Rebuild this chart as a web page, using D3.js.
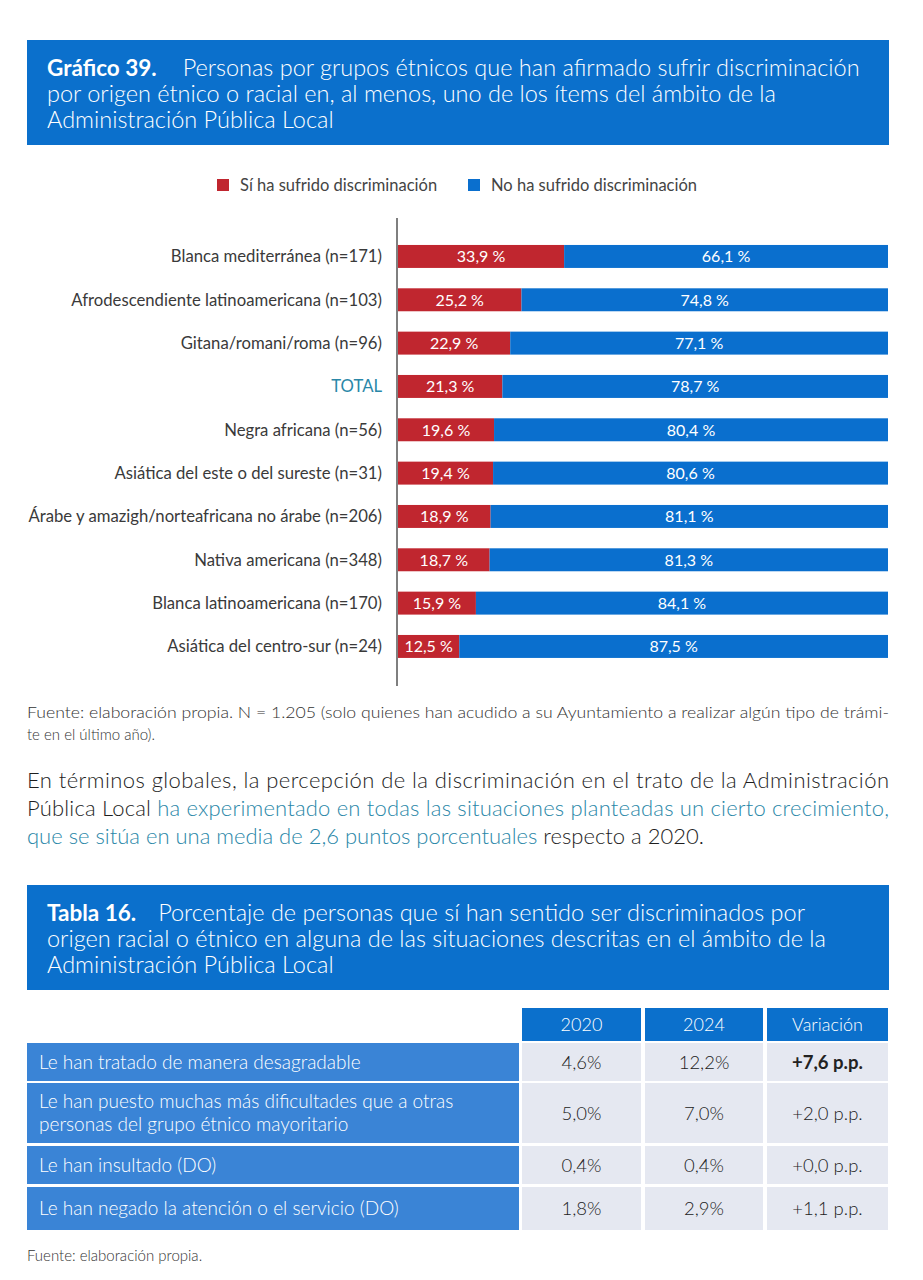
<!DOCTYPE html>
<html lang="es">
<head>
<meta charset="UTF-8">
<title>Gráfico 39</title>
<script src="https://cdnjs.cloudflare.com/ajax/libs/d3/7.8.5/d3.min.js"></script>
<style>
  body { margin: 0; background: #fff; }
  svg text { font-family: Lato, "Open Sans", sans-serif; }
</style>
</head>
<body>
<script>
// data
var categories = [
    "Blanca mediterránea (n=171)",
    "Afrodescendiente latinoamericana (n=103)",
    "Gitana/romani/roma (n=96)",
    "TOTAL",
    "Negra africana (n=56)",
    "Asiática del este o del sureste (n=31)",
    "Árabe y amazigh/norteafricana no árabe (n=206)",
    "Nativa americana (n=348)",
    "Blanca latinoamericana (n=170)",
    "Asiática del centro-sur (n=24)"
];
var siValues = [33.9, 25.2, 22.9, 21.3, 19.6, 19.4, 18.9, 18.7, 15.9, 12.5];
var noValues = [66.1, 74.8, 77.1, 78.7, 80.4, 80.6, 81.1, 81.3, 84.1, 87.5];
var legendLabels = ["Sí ha sufrido discriminación", "No ha sufrido discriminación"];

var tableHeaders = ["2020", "2024", "Variación"];
var tableItems = [
    ["Le han tratado de manera desagradable"],
    ["Le han puesto muchas más dificultades que a otras", "personas del grupo étnico mayoritario"],
    ["Le han insultado (DO)"],
    ["Le han negado la atención o el servicio (DO)"]
];
var values2020 = ["4,6%", "5,0%", "0,4%", "1,8%"];
var values2024 = ["12,2%", "7,0%", "0,4%", "2,9%"];
var variation = ["+7,6 p.p.", "+2,0 p.p.", "+0,0 p.p.", "+1,1 p.p."];

var width = 923,
    height = 1280;

var RED = "#c0262f",
    BLUE = "#0a6fce",
    HEAD = "#0b70cc",
    CELL = "#3a84d6",
    GREY = "#e5e8f1",
    TEAL = "#2a87a8",
    INK = "#333";

var svg = d3.select("body").append("svg")
    .attr("width", width)
    .attr("height", height);

// title boxes
function titleBox(y, boldText, lines, gap) {
    svg.append("rect")
        .attr("x", 27).attr("y", y)
        .attr("width", 862).attr("height", 105)
        .attr("fill", HEAD);
    var t = svg.append("text")
        .attr("fill", "#fff")
        .style("font-size", "23.5px")
        .style("font-weight", 300);
    lines.forEach(function (l, i) {
        var ts = t.append("tspan").attr("x", 47).attr("y", y + 36 + i * 26);
        if (i == 0) {
            ts.append("tspan").style("font-weight", "bold").style("font-size", "22.5px").text(boldText);
            ts.append("tspan").attr("dx", gap).text(l);
        } else {
            ts.text(l);
        }
    });
}

titleBox(40, "Gráfico 39.", [
    "Personas por grupos étnicos que han afirmado sufrir discriminación",
    "por origen étnico o racial en, al menos, uno de los ítems del ámbito de la",
    "Administración Pública Local"
], 26);

// legend
var legend = svg.append("g");
var legX = [217, 468];
legendLabels.forEach(function (l, i) {
    legend.append("rect")
        .attr("x", legX[i]).attr("y", 179)
        .attr("width", 12).attr("height", 12)
        .attr("fill", i == 0 ? RED : BLUE);
    legend.append("text")
        .attr("x", legX[i] + 23).attr("y", 191)
        .attr("fill", "#444")
        .style("font-size", "16.5px")
        .text(l);
});

// bars
var x = d3.scaleLinear().domain([0, 100]).range([398, 888]);
var y = d3.scaleBand()
    .domain(categories)
    .range([223.3, 679.6])
    .paddingInner(0.47)
    .paddingOuter(0.5);

var rows = categories.map(function (c, i) {
    return { cat: c, si: siValues[i], no: noValues[i] };
});
var stack = d3.stack().keys(["si", "no"]);
var series = stack(rows);

var fmt = function (v) { return d3.format(".1f")(v).replace(".", ",") + " %"; };

var layer = svg.selectAll(".layer")
    .data(series)
    .enter().append("g")
    .attr("class", "layer")
    .attr("fill", function (d) { return d.key == "si" ? RED : BLUE; });

layer.selectAll("rect")
    .data(function (d) { return d; })
    .enter().append("rect")
    .attr("x", function (d) { return x(d[0]); })
    .attr("y", function (d) { return y(d.data.cat); })
    .attr("width", function (d) { return x(d[1]) - x(d[0]); })
    .attr("height", y.bandwidth());

layer.selectAll("text")
    .data(function (d) { return d; })
    .enter().append("text")
    .attr("x", function (d) { return (x(d[0]) + x(d[1])) / 2; })
    .attr("y", function (d) { return y(d.data.cat) + y.bandwidth() / 2 + 6; })
    .attr("text-anchor", "middle")
    .attr("fill", "#fff")
    .style("font-size", "16px")
    .text(function (d) { return fmt(d[1] - d[0]); });

// category axis
var yAxis = svg.append("g")
    .attr("transform", "translate(397,0)")
    .call(d3.axisLeft(y).tickSize(0).tickPadding(15));
yAxis.select(".domain").remove();
yAxis.append("line")
    .attr("y1", 218).attr("y2", 686)
    .attr("stroke", "#555").attr("stroke-width", 1.5);
yAxis.selectAll(".tick text")
    .attr("fill", function (d) { return d == "TOTAL" ? TEAL : "#3a3a3a"; })
    .attr("dy", "0.35em")
    .style("font-family", "Lato, sans-serif")
    .style("font-size", "16.7px");

// source
var src = svg.append("text")
    .attr("fill", INK)
    .style("font-size", "15px")
    .style("font-weight", 300);
src.append("tspan").attr("x", 27).attr("y", 718)
    .attr("textLength", 862).attr("lengthAdjust", "spacingAndGlyphs")
    .text("Fuente: elaboración propia. N = 1.205 (solo quienes han acudido a su Ayuntamiento a realizar algún tipo de trámi-");
src.append("tspan").attr("x", 27).attr("y", 740)
    .text("te en el último año).");

// paragraph
var para = [
    [["En términos globales, la percepción de la discriminación en el trato de la Administración", "#1e1e1e"]],
    [["Pública Local ", "#1e1e1e"], ["ha experimentado en todas las situaciones planteadas un cierto crecimiento,", TEAL]],
    [["que se sitúa en una media de 2,6 puntos porcentuales", TEAL], [" respecto a 2020.", "#1e1e1e"]]
];
para.forEach(function (line, i) {
    var t = svg.append("text")
        .attr("x", 27).attr("y", 788 + i * 28)
        .style("font-size", "22px")
        .style("font-weight", 300);
    if (i < 2) t.attr("textLength", 862).attr("lengthAdjust", "spacing");
    line.forEach(function (p) {
        t.append("tspan").attr("fill", p[1]).text(p[0]);
    });
});

titleBox(885, "Tabla 16.", [
    "Porcentaje de personas que sí han sentido ser discriminados por",
    "origen racial o étnico en alguna de las situaciones descritas en el ámbito de la",
    "Administración Pública Local"
], 22);

// table
var colX = [522, 645, 767];
var colW = [119, 118, 121];
var tbl = svg.append("g");
tableHeaders.forEach(function (h, j) {
    tbl.append("rect")
        .attr("x", colX[j]).attr("y", 1008)
        .attr("width", colW[j]).attr("height", 33)
        .attr("fill", HEAD);
    tbl.append("text")
        .attr("x", colX[j] + colW[j] / 2).attr("y", 1031)
        .attr("text-anchor", "middle")
        .attr("fill", "#fff")
        .style("font-size", "18px")
        .style("font-weight", 300)
        .text(h);
});

var rowY = [1043, 1083, 1146, 1187];
var rowH = [38, 60, 38, 43];
tableItems.forEach(function (lines, i) {
    tbl.append("rect")
        .attr("x", 27).attr("y", rowY[i])
        .attr("width", 492).attr("height", rowH[i])
        .attr("fill", CELL);
    var mid = rowY[i] + rowH[i] / 2;
    lines.forEach(function (l, k) {
        tbl.append("text")
            .attr("x", 39)
            .attr("y", mid + 6.5 + (k - (lines.length - 1) / 2) * 23)
            .attr("fill", "#fff")
            .style("font-size", "19px")
            .style("font-weight", 300)
            .text(l);
    });
    [values2020[i], values2024[i], variation[i]].forEach(function (v, j) {
        tbl.append("rect")
            .attr("x", colX[j]).attr("y", rowY[i])
            .attr("width", colW[j]).attr("height", rowH[i])
            .attr("fill", GREY);
        tbl.append("text")
            .attr("x", colX[j] + colW[j] / 2).attr("y", mid + 6.5)
            .attr("text-anchor", "middle")
            .attr("fill", "#222")
            .style("font-size", "18.5px")
            .style("font-weight", (i == 0 && j == 2) ? "bold" : 300)
            .text(v);
    });
});

svg.append("text")
    .attr("x", 27).attr("y", 1261)
    .attr("fill", INK)
    .style("font-size", "15px")
    .style("font-weight", 300)
    .text("Fuente: elaboración propia.");
</script>
</body>
</html>
